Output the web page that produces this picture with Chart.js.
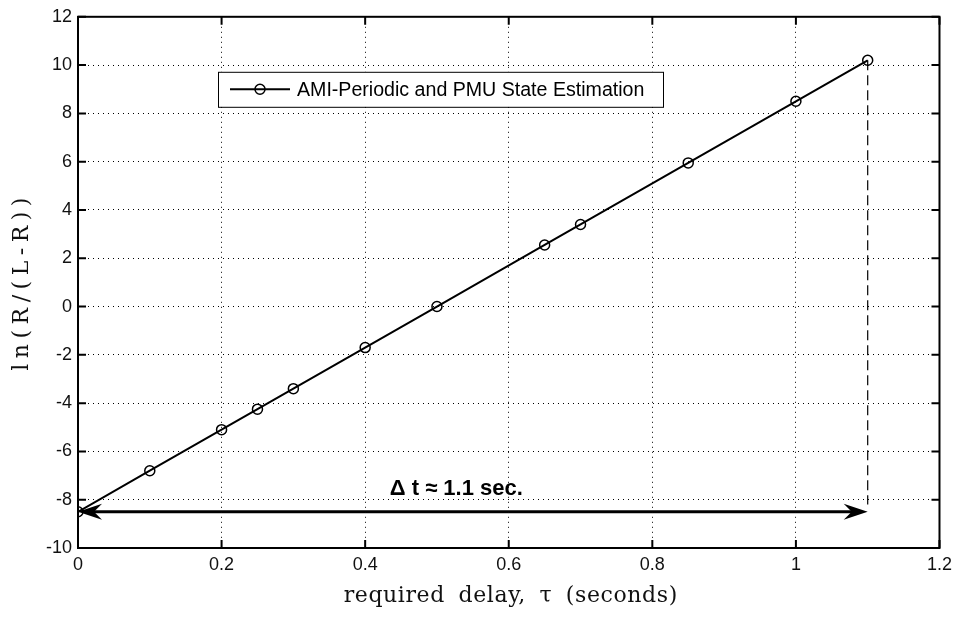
<!DOCTYPE html>
<html>
<head>
<meta charset="utf-8">
<script src="https://cdn.jsdelivr.net/npm/chart.js@4.4.1/dist/chart.umd.min.js"></script>
<style>
  html, body { margin: 0; padding: 0; background: #fff; }
  #wrap { width: 958px; height: 617px; }
</style>
</head>
<body>
<div id="wrap"><canvas id="chart" width="958" height="617"></canvas></div>
<script>
// required delay (s) and ln(R/(L-R))
const delays = [0, 0.1, 0.2, 0.25, 0.3, 0.4, 0.5, 0.65, 0.7, 0.85, 1.0, 1.1];
const logRatio = [-8.5, -6.8, -5.1, -4.25, -3.4, -1.7, 0, 2.55, 3.4, 5.95, 8.5, 10.2];
const xTicks = [0, 0.2, 0.4, 0.6, 0.8, 1, 1.2];
const yTicks = [-10, -8, -6, -4, -2, 0, 2, 4, 6, 8, 10, 12];

// annotation: delta-t arrow and dashed marker
const arrowX = [0, 1.1];
const arrowY = -8.5;
const markerX = [1.1, 1.1];
const markerY = [10.2, -8.2];
const arrowLabel = 'Δ t ≈ 1.1 sec.';
const arrowLabelPos = [0.527, -7.55];

const seriesName = 'AMI-Periodic and PMU State Estimation';
const xTitle = 'required delay, τ (seconds)';
const yTitle = 'ln(R/(L-R))';

const boxPlugin = {
    id: 'box',
    afterDatasetsDraw(chart) {
        const { ctx, chartArea: a, scales } = chart;
        const xs = scales.x, ys = scales.y;
        ctx.save();

        // arrow between the two instants
        const y = ys.getPixelForValue(arrowY);
        const x1 = xs.getPixelForValue(arrowX[0]);
        const x2 = xs.getPixelForValue(arrowX[1]);
        ctx.strokeStyle = '#000';
        ctx.fillStyle = '#000';
        ctx.lineWidth = 3;
        ctx.beginPath();
        ctx.moveTo(x1 + 8, y);
        ctx.lineTo(x2 - 8, y);
        ctx.stroke();
        function head(tip, dir) {
            ctx.beginPath();
            ctx.moveTo(tip, y);
            ctx.lineTo(tip - dir * 24, y - 8);
            ctx.lineTo(tip - dir * 16, y);
            ctx.lineTo(tip - dir * 24, y + 8);
            ctx.closePath();
            ctx.fill();
        }
        head(x1, -1);
        head(x2, 1);

        ctx.font = 'bold 22px "Liberation Sans", Arial, sans-serif';
        ctx.textAlign = 'center';
        ctx.textBaseline = 'middle';
        ctx.fillText(arrowLabel, xs.getPixelForValue(arrowLabelPos[0]), ys.getPixelForValue(arrowLabelPos[1]));

        // legend
        const lx = a.left + 140, ly = a.top + 55, lw = 445, lh = 35;
        ctx.fillStyle = '#fff';
        ctx.fillRect(lx, ly, lw, lh);
        ctx.lineWidth = 1;
        ctx.strokeStyle = '#000';
        ctx.strokeRect(lx + 0.5, ly + 0.5, lw, lh);
        ctx.lineWidth = 2;
        ctx.beginPath();
        ctx.moveTo(lx + 12, ly + lh / 2);
        ctx.lineTo(lx + 72, ly + lh / 2);
        ctx.stroke();
        ctx.lineWidth = 1.5;
        ctx.beginPath();
        ctx.arc(lx + 42, ly + lh / 2, 5, 0, Math.PI * 2);
        ctx.stroke();
        ctx.fillStyle = '#000';
        ctx.font = '19.6px "Liberation Sans", Arial, sans-serif';
        ctx.textAlign = 'left';
        ctx.fillText(seriesName, lx + 79, ly + lh / 2 + 1);

        ctx.restore();
    },
    afterDraw(chart) {
        const { ctx, chartArea: a, scales } = chart;
        ctx.save();
        ctx.strokeStyle = '#000';
        ctx.lineWidth = 2;
        const t = 8;
        ctx.beginPath();
        xTicks.forEach(v => {
            const px = scales.x.getPixelForValue(v);
            ctx.moveTo(px, a.bottom); ctx.lineTo(px, a.bottom - t);
            ctx.moveTo(px, a.top); ctx.lineTo(px, a.top + t);
        });
        yTicks.forEach(v => {
            const py = scales.y.getPixelForValue(v);
            ctx.moveTo(a.left, py); ctx.lineTo(a.left + t, py);
            ctx.moveTo(a.right, py); ctx.lineTo(a.right - t, py);
        });
        ctx.stroke();
        ctx.strokeRect(a.left, a.top, a.right - a.left, a.bottom - a.top);

        // axis titles (serif, spaced out like the original)
        ctx.fillStyle = '#111';
        ctx.textAlign = 'center';
        ctx.textBaseline = 'middle';
        ctx.font = '22px "DejaVu Serif", serif';
        ctx.letterSpacing = '0.6px';
        ctx.wordSpacing = '6px';
        ctx.fillText(xTitle, (a.left + a.right) / 2 + 2, 596);
        ctx.wordSpacing = '0px';
        ctx.translate(22, (a.top + a.bottom) / 2 + 2);
        ctx.rotate(-Math.PI / 2);
        ctx.letterSpacing = '5.5px';
        ctx.fillText(yTitle, 3, 0);
        ctx.restore();
    }
};

new Chart(document.getElementById('chart'), {
    type: 'line',
    data: {
        datasets: [{
            label: seriesName,
            data: delays.map((d, i) => ({ x: d, y: logRatio[i] })),
            borderColor: '#000',
            borderWidth: 2,
            pointRadius: 5,
            pointBorderWidth: 1.5,
            pointBorderColor: '#000',
            pointBackgroundColor: 'rgba(0,0,0,0)',
            fill: false,
            tension: 0
        }, {
            label: 'marker',
            data: markerX.map((d, i) => ({ x: d, y: markerY[i] })),
            borderColor: '#000',
            borderWidth: 1.2,
            borderDash: [10, 5],
            pointRadius: 0,
            fill: false
        }]
    },
    options: {
        responsive: false,
        animation: false,
        layout: { padding: { top: 13, right: 15, left: 0, bottom: 0 } },
        plugins: {
            legend: { display: false },
            tooltip: { enabled: false }
        },
        scales: {
            x: {
                type: 'linear',
                min: 0,
                max: 1.2,
                afterBuildTicks: s => { s.ticks = xTicks.map(v => ({ value: v })); },
                afterFit: s => { s.height = 69; },
                ticks: {
                    color: '#111',
                    font: { family: '"Liberation Sans", Arial, sans-serif', size: 18 },
                    padding: 6,
                    maxRotation: 0,
                    callback: v => String(+v.toFixed(1))
                },
                grid: { color: '#000', lineWidth: 1, drawTicks: false },
                border: { display: false, dash: [1, 4] }
            },
            y: {
                min: -10,
                max: 12,
                afterBuildTicks: s => { s.ticks = yTicks.map(v => ({ value: v })); },
                afterFit: s => { s.width = 78; },
                ticks: {
                    color: '#111',
                    font: { family: '"Liberation Sans", Arial, sans-serif', size: 18 },
                    padding: 6
                },
                grid: { color: '#000', lineWidth: 1, drawTicks: false },
                border: { display: false, dash: [1, 4] }
            }
        }
    },
    plugins: [boxPlugin]
});
</script>
</body>
</html>
